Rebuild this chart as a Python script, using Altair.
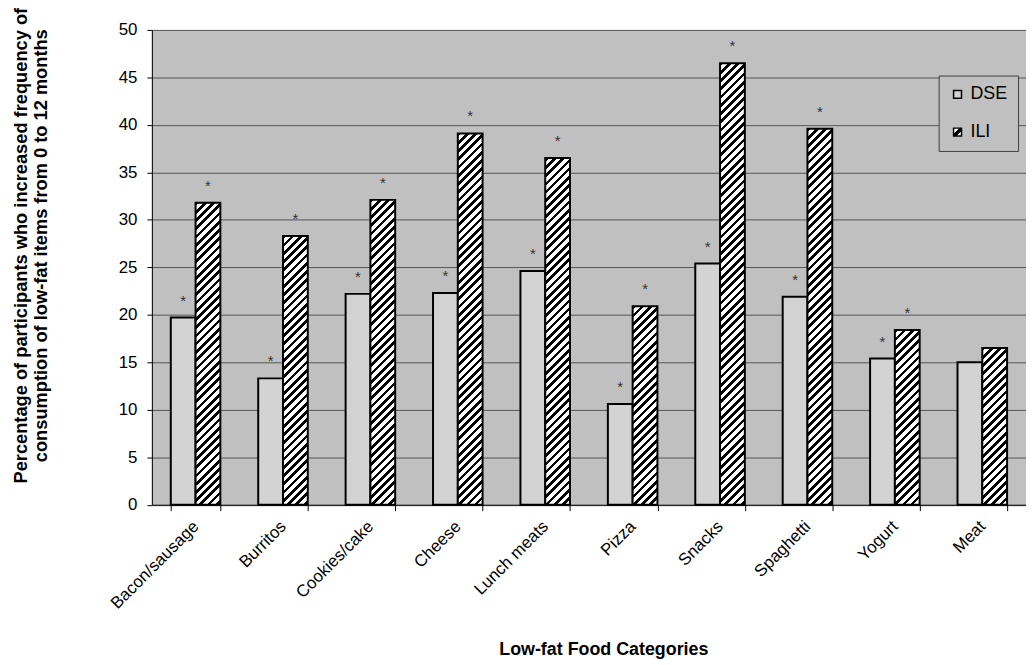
import json
import altair as alt
import pandas as pd

# ---- data ----
categories = ["Bacon/sausage", "Burritos", "Cookies/cake", "Cheese", "Lunch meats",
              "Pizza", "Snacks", "Spaghetti", "Yogurt", "Meat"]
dse_values = [19.7, 13.3, 22.2, 22.3, 24.6, 10.6, 25.4, 21.9, 15.4, 15.0]
ili_values = [31.8, 28.3, 32.1, 39.1, 36.5, 20.9, 46.5, 39.6, 18.4, 16.5]
dse_significant = [True, True, True, True, True, True, True, True, True, False]
ili_significant = [True, True, True, True, True, True, True, True, True, False]
series_names = ["DSE", "ILI"]
y_tick_values = [0, 5, 10, 15, 20, 25, 30, 35, 40, 45, 50]
y_title = ["Percentage of participants who increased frequency of",
           "consumption  of low-fat items from 0 to 12 months"]
x_title = "Low-fat Food Categories"

# ---- layout ----
W, H = 881, 478.5
Y_MAX = 50
PAD_INNER = 0.433
FONT = "Liberation Sans"
DSE_FILL = "#d3d3d3"

step = W / len(categories)
bar_w = step * (1 - PAD_INNER) / 2
px_per_unit = H / Y_MAX

rows = []
for c, d, i, sd, si in zip(categories, dse_values, ili_values, dse_significant, ili_significant):
    rows.append({"cat": c, "series": "DSE", "value": d, "star": "*" if sd else ""})
    rows.append({"cat": c, "series": "ILI", "value": i, "star": "*" if si else ""})
df = pd.DataFrame(rows)


def stripes(w, h, period=8.3, frac=0.45):
    """Diagonal '/' hatch as a linear gradient in bounding-box units."""
    k = (w + h) / (w * w + h * h)
    tp = period / (w + h)
    stops = []
    a = 0.0
    while a < 1:
        b = min(a + frac * tp, 1.0)
        c = min(a + tp, 1.0)
        stops += [{"offset": round(a, 5), "color": "#000000"},
                  {"offset": round(b, 5), "color": "#000000"},
                  {"offset": round(b, 5), "color": "#ffffff"},
                  {"offset": round(c, 5), "color": "#ffffff"}]
        a = c
    return {"gradient": "linear", "x1": 0, "y1": 0,
            "x2": round(k * w, 5), "y2": round(k * h, 5), "stops": stops}


conditions = [
    {"test": f"datum.series === 'ILI' && datum.cat === {json.dumps(c)}",
     "value": stripes(bar_w, v * px_per_unit)}
    for c, v in zip(categories, ili_values)
]

swatch_expr = ("{gradient: 'linear', x1: 0, y1: 0, x2: 1, y2: 1, stops: ["
               "{offset: 0, color: '#ffffff'}, {offset: 0.38, color: '#ffffff'}, "
               "{offset: 0.38, color: '#000000'}, {offset: 0.66, color: '#000000'}, "
               "{offset: 0.66, color: '#ffffff'}, {offset: 1, color: '#ffffff'}]}")

x_enc = alt.X(
    "cat:N", sort=categories,
    scale=alt.Scale(paddingInner=PAD_INNER, paddingOuter=PAD_INNER / 2),
    axis=alt.Axis(
        title=x_title, labelAngle=-45, labelAlign="right", labelBaseline="middle",
        labelFontSize=17, labelPadding=13, labelColor="black", labelFont=FONT,
        tickBand="extent", tickSize=6, tickColor="black", domainColor="black",
        grid=False, titleFontSize=18, titleFontWeight="bold", titleColor="black",
        titleFont=FONT, titleX=455, titleY=151, titleBaseline="alphabetic",
        titleAlign="center", labelOverlap=False,
    ),
)
xoff_enc = alt.XOffset("series:N", sort=series_names,
                       scale=alt.Scale(domain=series_names, paddingInner=0, paddingOuter=0))
y_enc = alt.Y(
    "value:Q", scale=alt.Scale(domain=[0, Y_MAX], nice=False),
    axis=alt.Axis(
        values=y_tick_values, title=y_title, titleAngle=-90, titleX=-141, titleY=217,
        titleBaseline="top", titleAlign="center", titleLineHeight=20,
        titleFontSize=18.4, titleFontWeight="bold", titleColor="black", titleFont=FONT,
        labelFontSize=17, labelPadding=10, labelColor="black", labelFont=FONT,
        tickSize=5, tickColor="black", domainColor="black",
        gridColor="#555555", gridOpacity=1, gridWidth=1,
    ),
)

base = alt.Chart(df)

bars = base.mark_bar(stroke="black", strokeWidth=2).encode(
    x=x_enc, xOffset=xoff_enc, y=y_enc,
    fill={"condition": conditions, "value": DSE_FILL},
)

stars = base.mark_text(baseline="alphabetic", dy=-12, fontSize=15, color="#333333",
                       font=FONT).encode(
    x=x_enc, xOffset=xoff_enc, y=y_enc, text="star:N",
)

legend_layer = base.mark_square(opacity=0, size=1).encode(
    x=x_enc, xOffset=xoff_enc, y=y_enc,
    fill=alt.Fill(
        "series:N",
        scale=alt.Scale(domain=series_names, range=[DSE_FILL, {"expr": swatch_expr}]),
        legend=alt.Legend(
            title=None, orient="none", legendX=793, legendY=46,
            fillColor="#c0c0c0", strokeColor="#404040", padding=10,
            labelFontSize=18, labelFont=FONT, labelColor="black", labelOffset=4,
            symbolType="square", symbolSize=64, symbolStrokeColor="black",
            symbolStrokeWidth=1.5, symbolOpacity=1, rowPadding=20,
        ),
    ),
)

chart = alt.layer(bars, stars, legend_layer).properties(
    width=W, height=H,
    autosize=alt.AutoSizeParams(type="none"),
    padding={"left": 145, "top": 19.5, "right": 0, "bottom": 157},
    background="white",
).configure(font=FONT).configure_view(fill="#c0c0c0", stroke="transparent", strokeWidth=0)

chart.save("out.html", embed_options={"renderer": "svg", "actions": False})
